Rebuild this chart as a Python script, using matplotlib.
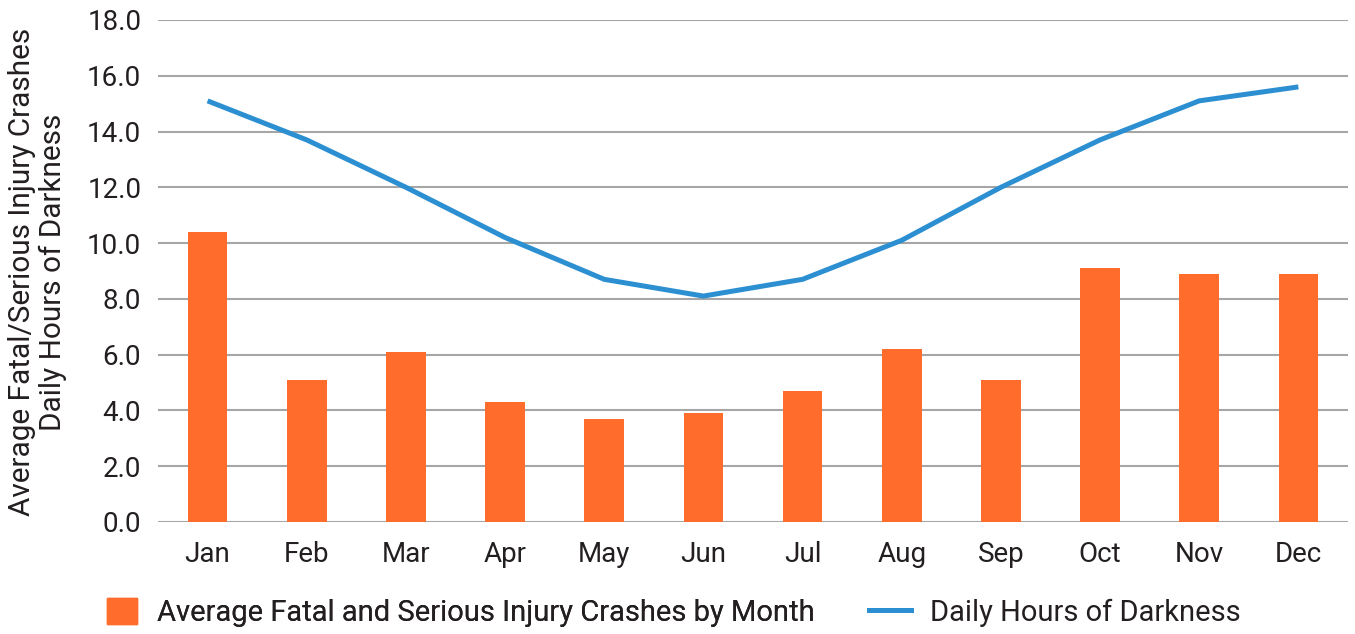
import matplotlib
matplotlib.use("Agg")
import numpy as np
import matplotlib.pyplot as plt
from matplotlib.patches import Patch
from matplotlib.lines import Line2D

months = ["Jan", "Feb", "Mar", "Apr", "May", "Jun",
          "Jul", "Aug", "Sep", "Oct", "Nov", "Dec"]
crashes = [10.4, 5.1, 6.1, 4.3, 3.7, 3.9, 4.7, 6.2, 5.1, 9.1, 8.9, 8.9]
darkness = [15.1, 13.7, 12.0, 10.2, 8.7, 8.1, 8.7, 10.1, 12.0, 13.7, 15.1, 15.6]
yticks = [0, 2, 4, 6, 8, 10, 12, 14, 16, 18]

orange = "#ff6c2c"
blue = "#2b8fd1"
text_c = "#231f20"
grid_c = "#a6a6a6"

plt.rcParams['font.family'] = ['Roboto', 'DejaVu Sans']

fig = plt.figure(figsize=(13.55, 6.34), dpi=100)
ax = fig.add_axes([0.1166, 0.1767, 0.8782, 0.7918])

x = np.arange(len(months))
ax.bar(x, crashes, width=0.4, color=orange, zorder=3)
ax.plot(x, darkness, color=blue, lw=3.6, zorder=4, solid_capstyle="butt")

ax.set_xlim(-0.5, 11.5)
ax.set_ylim(0, 18)
ax.set_yticks(yticks)
ax.set_yticklabels([f"{v:.1f}" for v in yticks])
ax.set_xticks(x)
ax.set_xticklabels(months)
ax.tick_params(axis="both", length=0, labelsize=20, colors=text_c)
ax.tick_params(axis="x", pad=14)
ax.tick_params(axis="y", pad=12)
ax.grid(axis="y", color=grid_c, lw=1.5, zorder=0)
for s in ax.spines.values():
    s.set_visible(False)

fig.text(0.0277, 0.571, "Average Fatal/Serious Injury Crashes\nDaily Hours of Darkness",
         rotation=90, ha="center", va="center", fontsize=21.4, color=text_c,
         linespacing=1.15, multialignment="center")

# two single-entry legends so each handle gets its own size
leg1 = fig.legend([Patch(color=orange)],
                  ["Average Fatal and Serious Injury Crashes by Month"],
                  loc="center left", bbox_to_anchor=(0.079, 0.034),
                  frameon=False, fontsize=21, labelcolor=text_c,
                  handlelength=1.03, handleheight=1.03, handletextpad=0.68,
                  borderpad=0, borderaxespad=0)
fig.add_artist(leg1)
fig.legend([Line2D([0], [0], color=blue, lw=3.6)],
           ["Daily Hours of Darkness"],
           loc="center left", bbox_to_anchor=(0.6413, 0.034),
           frameon=False, fontsize=21, labelcolor=text_c,
           handlelength=1.44, handletextpad=0.65,
           borderpad=0, borderaxespad=0)

fig.savefig("out.png", dpi=100)
